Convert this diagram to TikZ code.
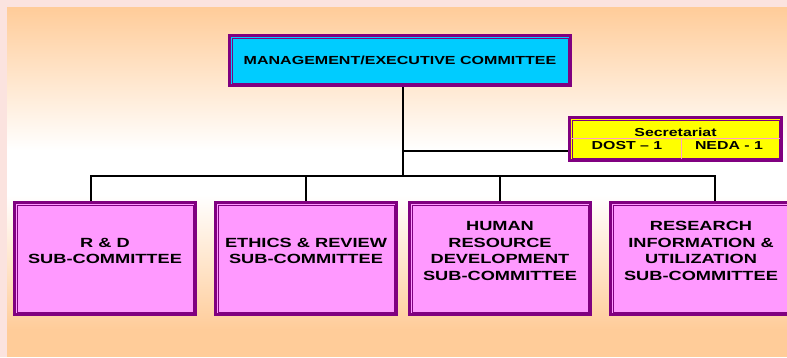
\documentclass[tikz,border=0pt]{standalone}
\usepackage{fontspec}
\setmainfont{Liberation Sans}[FakeStretch=1.37]
\definecolor{pd}{HTML}{800080}
\definecolor{pin}{HTML}{9B2D9B}
\definecolor{cy}{HTML}{00CCFF}
\definecolor{pk}{HTML}{FF99FF}
\definecolor{yl}{HTML}{FFFF00}
\definecolor{peach}{HTML}{FFCC99}
\definecolor{bgpink}{HTML}{FBE3DF}
\definecolor{divl}{HTML}{FFA0C8}
\tikzset{
  framebox/.style={draw=pd, line width=2.6pt, inner sep=0pt,
    path picture={\draw[pin,line width=0.9pt]
      ([shift={(2.7pt,2.7pt)}]path picture bounding box.south west) rectangle
      ([shift={(-2.7pt,-2.7pt)}]path picture bounding box.north east);}},
  mainbox/.style={framebox, fill=cy, minimum width=341.4pt, minimum height=50.4pt,
    font=\fontsize{11.7pt}{14pt}\selectfont\bfseries},
  subbox/.style={framebox, fill=pk, minimum width=181.4pt, minimum height=112.4pt},
  secbox/.style={framebox, fill=yl, minimum width=212.4pt, minimum height=43.4pt},
  subtext/.style={align=center, inner sep=0pt,
    font=\fontsize{13.3pt}{16.6pt}\selectfont\bfseries},
  sectext/.style={inner sep=0pt, font=\fontsize{11.6pt}{14pt}\selectfont\bfseries},
  conn/.style={draw=black, line width=2pt}
}
\begin{document}
\begin{tikzpicture}[x=1pt,y=-1pt]
\useasboundingbox (0,0) rectangle (787,357);
\begin{scope}
\clip (0,0) rectangle (787,357);
% background
\fill[bgpink] (0,0) rectangle (787,357);
\shade[top color=peach, bottom color=white] (7,7) rectangle (787,150);
\fill[white] (7,150) rectangle (787,195);
\shade[top color=white, bottom color=peach] (7,195) rectangle (787,330);
\fill[peach] (7,330) rectangle (787,357);

% junction coordinates
\coordinate (j0) at (403,176);
\coordinate (s0) at (403,151);
\coordinate (j1) at (91,176);
\coordinate (j2) at (306,176);
\coordinate (j3) at (500,176);
\coordinate (j4) at (715,176);

% nodes
\node[mainbox] (main) at (400,60.5) {MANAGEMENT/EXECUTIVE COMMITTEE};
\node[secbox] (sec) at (675.5,139) {};
\node[subbox] (b1) at (105,258.5) {};
\node[subbox] (b2) at (306,258.5) {};
\node[subbox] (b3) at (500,258.5) {};
\node[subbox] (b4) at (701,258.5) {};

% connectors
\draw[conn] (j0 |- main.south) -- (j0);
\draw[conn] (s0) -- (s0 -| sec.west);
\draw[conn] (j1 |- b1.north) -- (j1) -- (j4) -- (j4 |- b4.north);
\draw[conn] (j2) -- (j2 |- b2.north);
\draw[conn] (j3) -- (j3 |- b3.north);

% secretariat internals
\coordinate (sd) at (681,138);
\draw[divl, line width=0.8pt] ([xshift=3pt]sd -| sec.west) -- ([xshift=-3pt]sd -| sec.east);
\draw[divl, line width=0.8pt] (sd) -- ([yshift=3pt]sd |- sec.south);
\node[sectext] (st) at (675.5,132.5) {Secretariat};
\node[sectext] (sa) at (627,146) {DOST -- 1};
\node[sectext] (sb) at (729,146) {NEDA - 1};

% sub-committee texts
\node[subtext] (t1) at (105,251) {R \& D\\SUB-COMMITTEE};
\node[subtext] (t2) at (306,251) {ETHICS \& REVIEW\\SUB-COMMITTEE};
\node[subtext] (t3) at (500,251) {HUMAN\\RESOURCE\\DEVELOPMENT\\SUB-COMMITTEE};
\node[subtext] (t4) at (701,251) {RESEARCH\\INFORMATION \&\\UTILIZATION\\SUB-COMMITTEE};
\end{scope}
\end{tikzpicture}
\end{document}
